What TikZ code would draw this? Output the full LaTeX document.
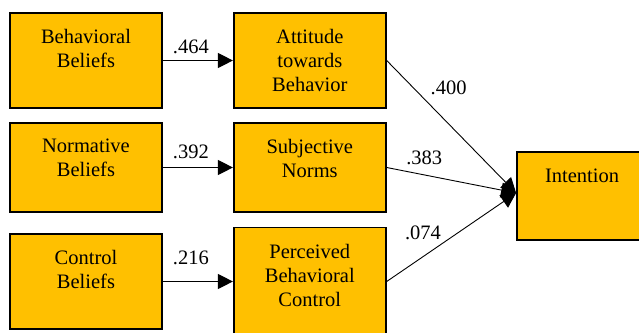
\documentclass[tikz,border=0pt]{standalone}
\usepackage{fontspec}
\setmainfont{Liberation Serif}
\usepackage{tikz}
\usetikzlibrary{arrows.meta, positioning}
\definecolor{gold}{RGB}{255,192,0}
\newcommand{\boxfont}{\rmfamily\fontsize{20.5}{24}\selectfont}

\begin{document}
\begin{tikzpicture}[
    x=1pt, y=-1pt,
    box/.style={draw, line width=1.8pt, fill=gold, minimum width=152pt,
                minimum height=95pt, inner sep=0pt},
    boxtext/.style={anchor=north, align=center, inner sep=0pt, font=\boxfont},
    weight/.style={font=\boxfont},
    link/.style={-{Triangle[length=15pt, width=15pt]}, line width=1.2pt},
    thinlink/.style={-{Triangle[length=15pt, width=15pt]}, line width=0.9pt}
]
\useasboundingbox (0,0) rectangle (639,332);
\node[box] (bb) at (86,60.5) {};
\node[box, right=70pt of bb] (att) {};
\node[box, minimum height=89pt] (nb) at (86,167.5) {};
\node[box, minimum height=89pt, right=70pt of nb] (sn) {};
\node[box] (cb) at (86,281.5) {};
\node[box, minimum height=108pt, right=70pt of cb] (pbc) {};
\node[box, minimum width=130pt, minimum height=88pt] (int) at (582,196) {};
\node[boxtext, below=17pt of bb.north] (bb-t) {Behavioral\\Beliefs};
\node[boxtext, below=17pt of att.north] (att-t) {Attitude\\towards\\Behavior};
\node[boxtext, below=17pt of nb.north] (nb-t) {Normative\\Beliefs};
\node[boxtext, below=17pt of sn.north] (sn-t) {Subjective\\Norms};
\node[boxtext, below=17pt of cb.north] (cb-t) {Control\\Beliefs};
\node[boxtext, below=17pt of pbc.north] (pbc-t) {Perceived\\Behavioral\\Control};
\node[boxtext, below=18pt of int.north] (int-t) {Intention};
\coordinate (in) at ([yshift=3pt]int.west);
\draw[link] (bb) -- node[weight, pos=0.4, above=3pt] {.464} (att);
\draw[link] (nb) -- node[weight, pos=0.4, above=5pt] {.392} (sn);
\draw[link] (cb) -- node[weight, pos=0.4, above=13pt] {.216} (pbc);
\draw[thinlink] (att.east) -- node[weight, pos=0.3, above right=2pt] {.400} (in);
\draw[thinlink] (sn.east) -- node[weight, pos=0.29, above=6pt] {.383} (in);
\draw[thinlink] (pbc.east) -- node[weight, pos=0.28, above=13pt] {.074} (in);
\end{tikzpicture}
\end{document}
